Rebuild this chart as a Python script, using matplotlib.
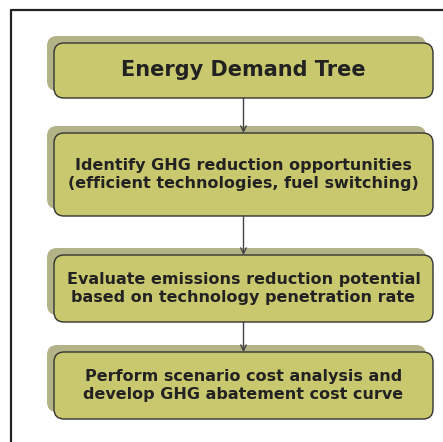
import matplotlib.pyplot as plt
from matplotlib.patches import FancyBboxPatch

# flowchart steps (top to bottom)
steps = [
    "Energy Demand Tree",
    "Identify GHG reduction opportunities\n(efficient technologies, fuel switching)",
    "Evaluate emissions reduction potential\nbased on technology penetration rate",
    "Perform scenario cost analysis and\ndevelop GHG abatement cost curve",
]
font_sizes = [15, 11.5, 11.5, 11.5]

# box layout in pixel coords (top, bottom)
box_rows = [(43, 98), (133, 216), (255, 322), (352, 419)]
left, right = 54, 433
shadow_dx, shadow_dy = -7, -7

fill_color = "#C9C86E"
shadow_color = "#B3B387"
edge_color = "#333333"

fig = plt.figure(figsize=(4.43, 4.42), dpi=100)
ax = fig.add_axes([0, 0, 1, 1])
ax.set_xlim(0, 443)
ax.set_ylim(442, 0)
ax.axis("off")

# outer frame (only top and left edges visible)
ax.plot([11, 11, 443], [442, 10, 10], color="#222222", lw=1.6)

for i, (label, (top, bottom)) in enumerate(zip(steps, box_rows)):
    w = right - left
    h = bottom - top
    shadow = FancyBboxPatch((left + shadow_dx, top + shadow_dy), w, h,
                            boxstyle="round,pad=0,rounding_size=10",
                            facecolor=shadow_color, edgecolor="none", zorder=1)
    ax.add_patch(shadow)
    box = FancyBboxPatch((left, top), w, h,
                         boxstyle="round,pad=0,rounding_size=10",
                         facecolor=fill_color, edgecolor=edge_color, lw=1.0, zorder=2)
    ax.add_patch(box)
    ax.text((left + right) / 2, (top + bottom) / 2, label, ha="center", va="center",
            fontsize=font_sizes[i], fontweight="bold", color="#222222",
            linespacing=1.3, zorder=3)
    if i < len(steps) - 1:
        next_top = box_rows[i + 1][0]
        ax.annotate("", xy=(243.5, next_top), xytext=(243.5, bottom),
                    arrowprops=dict(arrowstyle="->", color="#444444", lw=1.0,
                                    shrinkA=0, shrinkB=0), zorder=4)

fig.savefig("out.png", dpi=100)
